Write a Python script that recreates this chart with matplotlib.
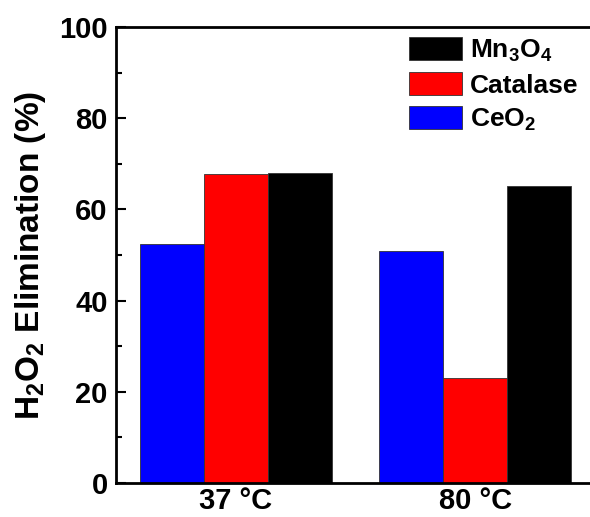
import numpy as np
import matplotlib.pyplot as plt
from matplotlib.ticker import MultipleLocator

plt.rcParams['font.family'] = 'Liberation Sans'
plt.rcParams['font.weight'] = 'bold'
plt.rcParams['mathtext.fontset'] = 'custom'
plt.rcParams['mathtext.rm'] = 'Liberation Sans:bold'
plt.rcParams['mathtext.bf'] = 'Liberation Sans:bold'
plt.rcParams['mathtext.it'] = 'Liberation Sans:bold'

temps = ["37 °C", "80 °C"]
ceo2 = [52.3, 50.9]
catalase = [67.7, 23.0]
mn3o4 = [68.0, 65.1]

fig = plt.figure(figsize=(5.9, 5.17), dpi=100)
ax = fig.add_axes([0.1966, 0.0658, 0.8244, 0.882])

x = np.arange(len(temps))
w = 0.268
b1 = ax.bar(x - w, ceo2, w, color='#0000ff', edgecolor='#333333', linewidth=0.6, label='CeO$_2$')
b2 = ax.bar(x, catalase, w, color='#ff0000', edgecolor='#333333', linewidth=0.6, label='Catalase')
b3 = ax.bar(x + w, mn3o4, w, color='#000000', edgecolor='#333333', linewidth=0.6, label='Mn$_3$O$_4$')

ax.set_xlim(-0.502, 1.532)
ax.set_ylim(0, 100)
ax.set_xticks(x)
ax.set_xticklabels(temps, fontsize=21, fontweight='bold')
ax.yaxis.set_major_locator(MultipleLocator(20))
ax.yaxis.set_minor_locator(MultipleLocator(10))
ax.tick_params(axis='y', which='major', direction='in', length=7, width=1.5, labelsize=21, pad=6)
ax.tick_params(axis='y', which='minor', direction='in', length=4, width=1.5)
ax.tick_params(axis='x', length=0, labelsize=21, pad=3)
for lab in ax.get_yticklabels():
    lab.set_fontweight('bold')
for s in ax.spines.values():
    s.set_linewidth(2)

ax.set_ylabel('H$_2$O$_2$ Elimination (%)', fontsize=24, fontweight='bold', labelpad=8)

ax.legend(handles=[b3, b2, b1], loc='upper left', bbox_to_anchor=(0.565, 1.018),
          frameon=False, fontsize=19, handlelength=2.0, handleheight=0.95,
          handletextpad=0.3, labelspacing=0.32, borderaxespad=0.3)

fig.savefig('out.png', dpi=100)
